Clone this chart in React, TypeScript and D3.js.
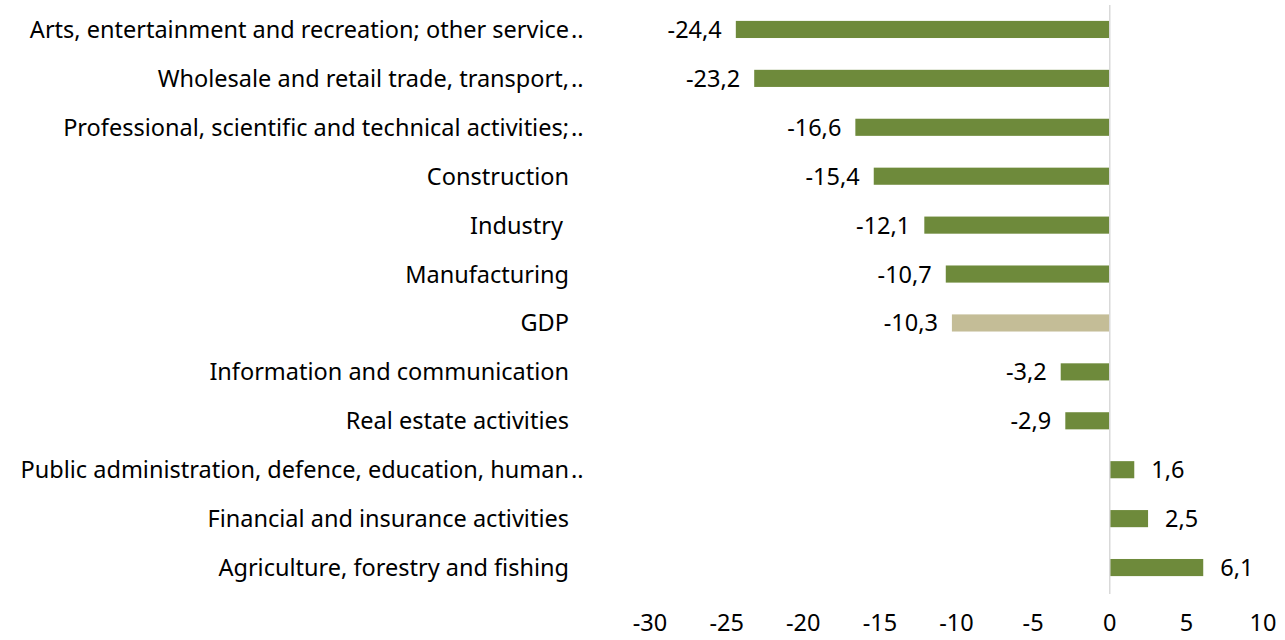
import React from "react";
import * as d3 from "d3";

const categories = [
  "Arts, entertainment and recreation; other service",
  "Wholesale and retail trade, transport,",
  "Professional, scientific and technical activities;",
  "Construction",
  "Industry ",
  "Manufacturing",
  "GDP",
  "Information and communication",
  "Real estate activities",
  "Public administration, defence, education, human",
  "Financial and insurance activities",
  "Agriculture, forestry and fishing",
];
const truncated = [true, true, true, false, false, false, false, false, false, true, false, false];
const values = [-24.4, -23.2, -16.6, -15.4, -12.1, -10.7, -10.3, -3.2, -2.9, 1.6, 2.5, 6.1];
const highlight = "GDP";
const xTicks = [-30, -25, -20, -15, -10, -5, 0, 5, 10];

const W = 1285;
const H = 640;
const FONT = "'Noto Sans', 'Open Sans', sans-serif";
const FS = 23.5;

export default function App() {
  const x = d3.scaleLinear().domain([-30, 10]).range([650, 1263]);
  const y = d3.scaleBand<string>().domain(categories).range([5, 592]).paddingInner(0.65).paddingOuter(0.325);
  const fmt = (v: number) => d3.format(".1f")(v).replace(".", ",").replace("−", "-");
  const labelX = 569;

  return (
    <svg
      width={W}
      height={H}
      style={{ position: "absolute", left: 0, top: 0, background: "#fff", fontVariantLigatures: "none" }}
      fontFamily={FONT}
    >
      {values.map((v, i) => {
        const c = categories[i];
        const yy = y(c)!;
        const bw = y.bandwidth();
        const x0 = x(Math.min(0, v));
        const x1 = x(Math.max(0, v));
        return (
          <g key={c}>
            <rect x={x0} y={yy} width={x1 - x0} height={bw} fill={c === highlight ? "#c4bd97" : "#6e8a3b"} />
            <text
              x={v < 0 ? x0 - 14 : x1 + 17}
              y={yy + bw / 2}
              dy="0.36em"
              textAnchor={v < 0 ? "end" : "start"}
              fontSize={FS}
              fill="#000"
            >
              {fmt(v)}
            </text>
          </g>
        );
      })}
      <line x1={x(0)} x2={x(0)} y1={5} y2={594} stroke="#d9d9d9" strokeWidth={1.5} />
      {categories.map((c, i) => (
        <g key={"l" + c}>
          <text
            x={labelX}
            y={y(c)! + y.bandwidth() / 2}
            dy="0.36em"
            textAnchor="end"
            fontSize={FS}
            fill="#000"
            style={{ whiteSpace: "pre" }}
          >
            {c}
          </text>
          {truncated[i] && (
            <text x={labelX + 2} y={y(c)! + y.bandwidth() / 2} dy="0.36em" fontSize={FS} fill="#000">
              ..
            </text>
          )}
        </g>
      ))}
      {xTicks.map((t) => (
        <text key={"t" + t} x={x(t)} y={631} textAnchor="middle" fontSize={FS} fill="#000">
          {t}
        </text>
      ))}
    </svg>
  );
}
